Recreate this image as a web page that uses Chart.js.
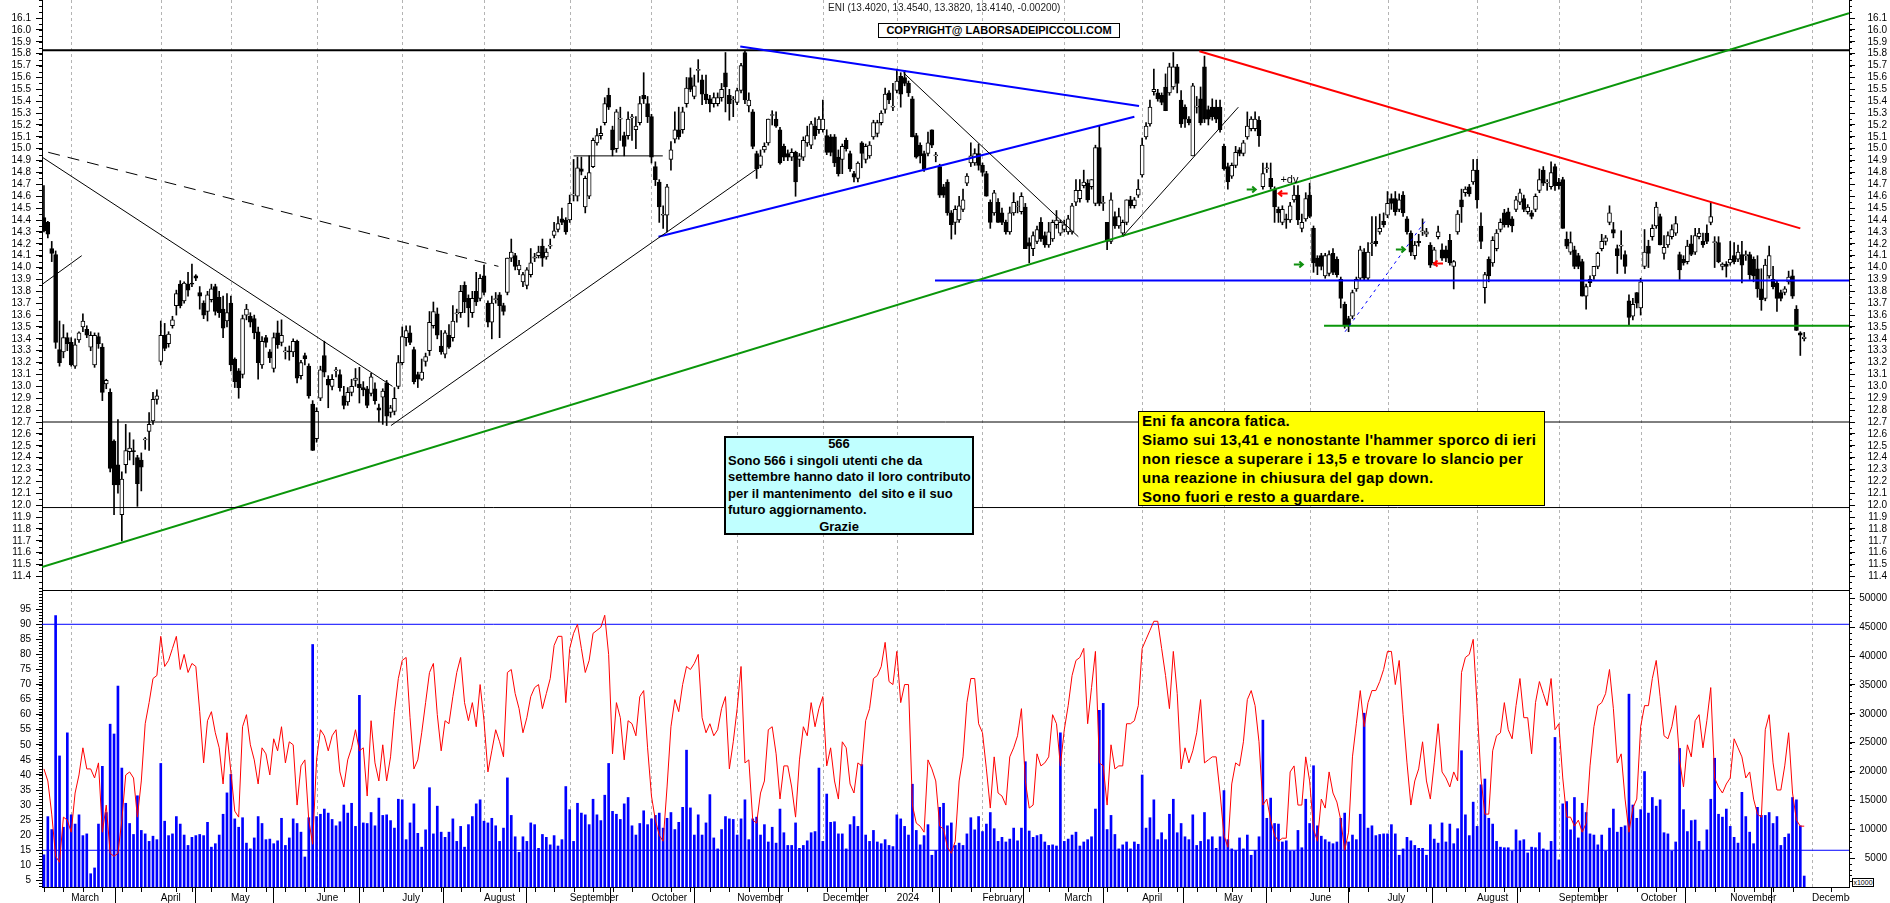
<!DOCTYPE html>
<html>
<head>
<meta charset="utf-8">
<script src="https://cdn.jsdelivr.net/npm/chart.js@4.4.1/dist/chart.umd.min.js"></script>
<style>
  html, body { margin: 0; padding: 0; background: #fff; }
  #page { position: relative; width: 1890px; height: 903px; overflow: hidden; font-family: "Liberation Sans", Arial, sans-serif; }
  #cTop { position: absolute; left: 0; top: 0; }
  #cBot { position: absolute; left: 0; top: 589px; }
  .ov { position: absolute; box-sizing: border-box; white-space: nowrap; color: #000; }
  #title { left: 828px; top: 2px; font-size: 10px; color: #222; }
  #copy { left: 878px; top: 23px; width: 242px; height: 15px; border: 1px solid #000; background: #fff;
          font-weight: bold; font-size: 11px; line-height: 13px; text-align: center; }
  #note566 { left: 724px; top: 436px; width: 250px; height: 99px; border: 2px solid #000; background: #c0ffff;
             font-weight: bold; font-size: 13px; line-height: 16.5px; padding-left: 2px; }
  #note566 .in { position: relative; top: -2px; }
  #note566 .c { text-align: center; padding-right: 22px; }
  #noteEni { left: 1138px; top: 411px; width: 407px; height: 95px; border: 1px solid #000; background: #ffff00;
             font-weight: bold; font-size: 15px; letter-spacing: 0.3px; line-height: 18.9px; padding-left: 3px; }
  #x1000 { left: 1852px; top: 878px; width: 22px; height: 9px; border: 1px solid #000; font-size: 7px; line-height: 7px; text-align: center; background: #fff; }
</style>
</head>
<body>
<div id="page">
  <canvas id="cTop" width="1890" height="590"></canvas>
  <canvas id="cBot" width="1890" height="314"></canvas>
  <div class="ov" id="title">ENI (13.4020, 13.4540, 13.3820, 13.4140, -0.00200)</div>
  <div class="ov" id="copy">COPYRIGHT@ LABORSADEIPICCOLI.COM</div>
  <div class="ov" id="note566"><div class="in">
    <div class="c">566</div>
    <div>Sono 566 i singoli utenti che da</div>
    <div>settembre hanno dato il loro contributo</div>
    <div>per il mantenimento&nbsp; del sito e il suo</div>
    <div>futuro aggiornamento.</div>
    <div class="c">Grazie</div>
  </div></div>
  <div class="ov" id="noteEni">
    <div>Eni fa ancora fatica.</div>
    <div>Siamo sui 13,41 e nonostante l'hammer sporco di ieri</div>
    <div>non riesce a superare i 13,5 e trovare lo slancio per</div>
    <div>una reazione in chiusura del gap down.</div>
    <div>Sono fuori e resto a guardare.</div>
  </div>
  <div class="ov" id="x1000">x1000</div>
</div>
<script>
// daily candles, Feb 20 2023 -> end Nov 2024 (one entry per trading day)
const opens = [
  14.42,14.38,14.16,14.11,13.31,13.29,13.41,13.37,13.17,13.39,
  13.50,13.48,13.33,13.18,13.42,13.33,13.02,12.95,12.54,12.34,
  11.92,12.34,12.45,12.46,12.40,12.38,12.55,12.62,12.71,12.89,
  13.21,13.43,13.36,13.51,13.68,13.86,13.72,13.86,13.87,13.93,
  13.79,13.70,13.63,13.73,13.84,13.75,13.65,13.55,13.70,13.23,
  13.13,13.10,13.60,13.59,13.57,13.46,13.18,13.41,13.29,13.15,
  13.45,13.37,13.29,13.30,13.29,13.38,13.09,13.26,13.17,12.85,
  12.56,12.90,13.26,13.06,13.00,13.13,13.10,12.92,12.87,12.95,
  13.05,13.02,12.99,12.98,12.94,12.98,12.82,12.91,13.03,12.78,
  12.79,13.00,13.20,13.41,13.45,13.31,13.10,13.06,13.21,13.30,
  13.51,13.61,13.34,13.27,13.43,13.41,13.61,13.62,13.85,13.74,
  13.62,13.80,13.74,13.93,13.70,13.54,13.73,13.77,13.68,13.79,
  14.08,14.10,13.98,13.88,13.85,13.94,14.08,14.10,14.18,14.09,
  14.18,14.27,14.32,14.41,14.40,14.40,14.61,14.60,14.83,14.51,
  14.60,14.85,15.05,15.11,15.22,15.45,15.16,15.00,15.25,15.11,
  15.11,15.26,15.16,15.22,15.45,15.38,15.27,14.85,14.72,14.44,
  14.44,14.91,15.08,15.16,15.16,15.38,15.60,15.44,15.66,15.58,
  15.46,15.42,15.38,15.38,15.43,15.64,15.45,15.41,15.39,15.49,
  15.81,15.36,15.31,14.96,14.86,14.99,15.05,15.28,15.25,15.16,
  15.02,14.96,14.93,14.97,14.91,14.93,15.05,15.03,15.19,15.16,
  15.16,15.11,15.10,15.10,14.93,14.91,15.07,14.96,14.79,14.75,
  15.05,14.91,14.94,15.10,15.13,15.22,15.33,15.47,15.35,15.49,
  15.61,15.60,15.55,15.42,15.11,15.03,14.96,14.96,15.16,14.94,
  14.85,14.68,14.72,14.46,14.38,14.40,14.49,14.71,14.88,14.88,
  14.96,14.86,14.79,14.55,14.46,14.55,14.46,14.38,14.30,14.46,
  14.51,14.47,14.51,14.21,14.16,14.22,14.38,14.27,14.19,14.24,
  14.36,14.29,14.32,14.30,14.30,14.55,14.58,14.69,14.71,14.68,
  14.54,15.01,14.54,14.38,14.22,14.43,14.35,14.29,14.38,14.57,
  14.52,14.61,14.78,15.10,15.21,15.48,15.47,15.45,15.52,15.47,
  15.52,15.69,15.41,15.35,15.25,14.94,15.35,15.42,15.69,15.33,
  15.35,15.35,15.35,15.02,14.85,14.77,14.86,14.99,14.96,15.10,
  15.17,15.17,15.24,14.68,14.83,14.75,14.66,14.49,14.38,14.41,
  14.40,14.57,14.61,14.33,14.41,14.61,14.33,14.08,14.10,13.93,
  13.95,14.12,14.07,13.90,13.69,13.57,13.59,13.82,13.91,14.13,
  13.91,14.20,14.22,14.30,14.39,14.44,14.58,14.58,14.49,14.61,
  14.41,14.29,14.10,14.22,14.30,14.28,14.19,14.04,14.26,14.15,
  14.15,14.23,14.01,14.30,14.57,14.63,14.68,14.72,14.82,14.35,
  13.83,14.07,14.04,14.16,14.32,14.46,14.47,14.41,14.49,14.55,
  14.58,14.47,14.46,14.49,14.65,14.82,14.71,14.68,14.85,14.72,
  14.74,14.24,14.13,14.15,14.10,14.05,13.76,13.90,13.93,14.01,
  14.16,14.22,14.38,14.32,14.16,14.18,14.11,13.72,13.59,13.79,
  13.66,14.01,14.18,14.26,14.35,14.43,14.12,14.19,14.26,14.29,
  14.11,14.07,14.05,14.20,14.13,14.26,14.22,14.29,14.38,14.21,
  14.21,14.01,14.03,14.04,14.10,14.07,14.11,14.10,14.11,14.07,
  13.99,13.82,13.74,13.93,13.90,13.87,13.79,13.79,13.88,13.93,
  13.65,13.45,13.402
];
const highs = [
  14.69,14.39,14.22,14.14,13.55,13.52,13.45,13.41,13.40,13.46,
  13.61,13.51,13.46,13.45,13.45,13.36,13.06,12.98,12.55,12.72,
  12.28,12.68,12.61,12.55,12.42,12.44,12.57,12.78,12.95,12.97,
  13.55,13.53,13.46,13.59,13.81,13.89,13.88,13.96,14.03,13.94,
  13.84,13.72,13.80,13.86,13.86,13.80,13.76,13.78,13.76,13.24,
  13.15,13.60,13.69,13.62,13.60,13.50,13.42,13.43,13.31,13.45,
  13.55,13.56,13.33,13.34,13.40,13.39,13.22,13.28,13.19,12.88,
  12.82,13.17,13.38,13.09,13.10,13.16,13.14,13.00,12.99,13.06,
  13.15,13.16,13.04,13.00,13.11,13.03,12.85,12.98,13.05,12.84,
  12.99,13.26,13.50,13.51,13.51,13.33,13.12,13.23,13.28,13.63,
  13.71,13.66,13.47,13.47,13.52,13.68,13.65,13.85,13.88,13.77,
  13.80,13.96,13.94,14.02,13.72,13.76,13.79,13.79,13.70,14.08,
  14.24,14.12,14.06,13.96,14.00,14.16,14.12,14.18,14.24,14.16,
  14.24,14.38,14.43,14.50,14.42,14.61,14.91,14.93,14.93,14.77,
  14.94,15.09,15.17,15.19,15.43,15.51,15.19,15.33,15.35,15.14,
  15.31,15.29,15.27,15.44,15.64,15.44,15.29,14.89,14.74,14.52,
  14.70,15.06,15.31,15.35,15.35,15.60,15.68,15.62,15.75,15.62,
  15.62,15.45,15.47,15.47,15.55,15.81,15.50,15.44,15.51,15.72,
  15.82,15.47,15.33,14.98,14.99,15.05,15.25,15.32,15.31,15.18,
  15.04,14.99,15.00,14.98,14.96,15.10,15.19,15.23,15.26,15.27,
  15.41,15.16,15.12,15.12,14.99,15.04,15.09,14.98,14.81,14.89,
  15.06,15.04,15.06,15.24,15.24,15.32,15.51,15.49,15.55,15.67,
  15.64,15.66,15.57,15.44,15.13,15.05,14.98,15.14,15.16,14.97,
  14.87,14.70,14.74,14.48,14.52,14.60,14.66,14.79,15.05,15.00,
  15.04,14.88,14.81,14.57,14.65,14.58,14.50,14.40,14.51,14.63,
  14.56,14.63,14.54,14.25,14.30,14.35,14.42,14.30,14.38,14.40,
  14.48,14.40,14.40,14.44,14.54,14.74,14.74,14.82,14.74,14.74,
  15.03,15.19,14.60,14.38,14.63,14.47,14.50,14.40,14.57,14.60,
  14.59,14.74,15.09,15.22,15.41,15.67,15.50,15.47,15.63,15.72,
  15.81,15.71,15.49,15.37,15.27,15.55,15.44,15.52,15.78,15.36,
  15.42,15.41,15.41,15.04,14.88,14.88,15.02,15.01,15.07,15.31,
  15.27,15.31,15.27,14.88,14.88,14.88,14.68,14.51,14.52,14.45,
  14.55,14.69,14.69,14.45,14.63,14.71,14.35,14.10,14.12,14.12,
  14.14,14.16,14.09,13.92,13.71,13.59,13.81,13.92,14.18,14.16,
  14.21,14.43,14.43,14.45,14.46,14.64,14.62,14.64,14.62,14.64,
  14.43,14.31,14.22,14.28,14.41,14.33,14.21,14.17,14.35,14.20,
  14.18,14.28,14.06,14.48,14.66,14.68,14.70,14.91,14.91,14.46,
  13.96,14.09,14.26,14.32,14.41,14.49,14.50,14.43,14.60,14.66,
  14.61,14.53,14.48,14.62,14.83,14.85,14.74,14.89,14.87,14.75,
  14.76,14.30,14.30,14.18,14.12,14.07,13.86,13.93,14.01,14.13,
  14.28,14.27,14.52,14.38,14.19,14.31,14.14,13.77,13.74,13.79,
  13.91,14.32,14.23,14.36,14.55,14.45,14.27,14.30,14.36,14.43,
  14.13,14.10,14.23,14.27,14.33,14.33,14.29,14.36,14.55,14.26,
  14.26,14.04,14.05,14.22,14.21,14.19,14.22,14.14,14.13,14.09,
  14.10,13.99,14.07,14.18,14.01,13.89,13.81,13.84,13.97,13.98,
  13.68,13.46,13.454
];
const lows = [
  14.30,14.25,14.05,13.32,13.17,13.24,13.30,13.17,13.15,13.37,
  13.46,13.41,13.30,13.16,13.32,12.88,12.98,12.28,11.92,12.10,
  11.70,12.27,12.38,12.34,11.99,12.12,12.47,12.46,12.68,12.85,
  13.18,13.30,13.33,13.49,13.60,13.66,13.70,13.76,13.84,13.89,
  13.65,13.57,13.55,13.71,13.60,13.58,13.41,13.50,13.13,12.99,
  12.90,13.07,13.56,13.50,13.40,13.06,13.15,13.33,13.20,13.12,
  13.32,13.34,13.23,13.22,13.25,13.03,13.06,13.18,12.90,12.46,
  12.53,12.88,13.08,12.82,12.97,13.08,12.96,12.81,12.84,12.92,
  13.00,12.86,12.92,12.82,12.92,12.85,12.70,12.68,12.67,12.74,
  12.76,12.98,13.18,13.34,13.35,13.02,12.99,13.05,13.17,13.26,
  13.49,13.40,13.27,13.24,13.32,13.38,13.54,13.58,13.62,13.50,
  13.58,13.68,13.72,13.77,13.50,13.40,13.70,13.41,13.60,13.77,
  14.05,13.98,13.94,13.84,13.82,13.92,14.05,14.08,14.01,14.07,
  14.16,14.25,14.30,14.36,14.28,14.38,14.56,14.56,14.78,14.46,
  14.58,14.84,15.03,15.08,15.20,15.33,14.94,14.97,15.07,14.94,
  15.08,15.07,15.00,15.20,15.38,15.22,14.88,14.69,14.38,14.33,
  14.30,14.82,15.05,15.08,15.13,15.35,15.48,15.42,15.56,15.37,
  15.38,15.31,15.35,15.36,15.40,15.31,15.24,15.27,15.37,15.47,
  15.38,15.31,15.00,14.75,14.84,14.97,15.03,15.20,15.18,14.87,
  14.90,14.90,14.90,14.60,14.85,14.90,15.02,15.00,15.08,15.13,
  15.14,14.95,14.94,14.85,14.77,14.79,14.98,14.81,14.72,14.72,
  14.84,14.88,14.92,15.08,15.10,15.20,15.30,15.38,15.32,15.47,
  15.35,15.53,15.44,15.10,14.92,14.88,14.81,14.94,15.01,14.89,
  14.59,14.59,14.44,14.24,14.28,14.38,14.47,14.69,14.85,14.86,
  14.82,14.77,14.60,14.33,14.44,14.38,14.36,14.28,14.28,14.44,
  14.46,14.45,14.16,14.04,14.10,14.20,14.22,14.17,14.17,14.22,
  14.33,14.27,14.30,14.28,14.28,14.52,14.55,14.67,14.55,14.66,
  14.52,14.52,14.48,14.15,14.20,14.33,14.33,14.26,14.36,14.50,
  14.50,14.59,14.76,15.08,15.19,15.45,15.40,15.37,15.32,15.45,
  15.50,15.47,15.18,15.18,15.20,14.94,15.30,15.20,15.22,15.20,
  15.24,15.22,15.14,14.82,14.66,14.75,14.84,14.94,14.94,15.08,
  15.15,15.15,15.02,14.66,14.80,14.66,14.38,14.38,14.36,14.33,
  14.38,14.55,14.36,14.30,14.39,14.42,13.96,13.94,13.98,13.91,
  13.93,13.94,13.92,13.66,13.49,13.46,13.57,13.80,13.89,13.89,
  13.89,14.10,14.18,14.28,14.34,14.42,14.49,14.44,14.47,14.43,
  14.28,14.10,14.07,14.18,14.27,14.26,14.00,14.02,14.24,14.06,
  14.05,14.02,13.82,14.28,14.38,14.60,14.60,14.70,14.50,14.16,
  13.70,13.88,14.01,14.14,14.30,14.34,14.34,14.30,14.47,14.53,
  14.47,14.45,14.41,14.47,14.63,14.69,14.65,14.66,14.65,14.66,
  14.33,14.16,14.11,13.99,13.99,13.76,13.65,13.84,13.90,13.99,
  14.14,14.19,14.36,14.25,13.95,14.07,13.95,13.52,13.56,13.66,
  13.60,13.99,14.00,14.23,14.33,14.19,14.07,14.17,14.24,14.27,
  13.90,14.02,14.03,14.10,14.11,14.24,14.17,14.20,14.36,14.00,
  14.04,13.98,13.92,14.02,14.03,14.05,13.87,14.06,13.90,13.88,
  13.75,13.64,13.72,13.91,13.82,13.63,13.72,13.77,13.86,13.74,
  13.47,13.26,13.382
];
const closes = [
  14.31,14.28,14.12,13.37,13.20,13.41,13.36,13.18,13.35,13.45,
  13.55,13.43,13.43,13.43,13.36,12.95,13.05,12.31,12.17,12.17,
  12.22,12.46,12.48,12.45,12.18,12.32,12.55,12.68,12.89,12.92,
  13.43,13.32,13.44,13.56,13.78,13.68,13.87,13.81,13.86,13.91,
  13.76,13.60,13.77,13.82,13.63,13.62,13.49,13.62,13.18,13.04,
  12.99,13.57,13.65,13.54,13.45,13.20,13.38,13.37,13.24,13.41,
  13.35,13.43,13.29,13.29,13.38,13.07,13.20,13.23,12.92,12.46,
  12.79,13.14,13.12,13.01,13.06,13.13,12.99,12.84,12.95,13.00,
  13.07,12.99,12.97,12.84,13.08,12.88,12.80,12.96,12.75,12.82,
  12.90,13.20,13.42,13.47,13.37,13.04,13.06,13.12,13.25,13.54,
  13.63,13.43,13.29,13.45,13.33,13.55,13.61,13.80,13.71,13.66,
  13.74,13.71,13.91,13.79,13.54,13.70,13.73,13.68,13.63,14.08,
  14.13,14.01,14.02,13.94,13.98,14.04,14.09,14.13,14.08,14.13,
  14.18,14.31,14.37,14.38,14.30,14.54,14.61,14.84,14.81,14.75,
  14.80,15.07,15.11,15.13,15.38,15.35,14.99,15.31,15.25,15.02,
  15.25,15.26,15.19,15.38,15.42,15.27,14.93,14.74,14.51,14.44,
  14.68,14.99,15.16,15.10,15.31,15.51,15.50,15.53,15.66,15.46,
  15.41,15.38,15.43,15.43,15.50,15.52,15.38,15.41,15.49,15.70,
  15.41,15.41,15.02,14.83,14.94,15.02,15.25,15.28,15.19,14.88,
  14.93,14.93,14.97,14.72,14.94,15.07,15.11,15.21,15.11,15.25,
  15.25,14.97,14.97,14.88,14.79,15.02,15.00,14.83,14.76,14.88,
  14.96,15.02,15.03,15.22,15.22,15.30,15.46,15.41,15.36,15.57,
  15.46,15.55,15.47,15.10,14.93,14.94,14.83,15.05,15.03,14.94,
  14.61,14.61,14.46,14.36,14.49,14.52,14.57,14.77,14.94,14.96,
  14.86,14.80,14.60,14.38,14.63,14.38,14.38,14.30,14.46,14.55,
  14.51,14.60,14.16,14.18,14.27,14.32,14.24,14.19,14.30,14.38,
  14.40,14.38,14.36,14.41,14.52,14.65,14.65,14.72,14.57,14.74,
  15.01,14.54,14.54,14.22,14.57,14.35,14.43,14.38,14.57,14.52,
  14.57,14.66,15.03,15.19,15.35,15.50,15.42,15.39,15.32,15.69,
  15.69,15.55,15.21,15.25,15.22,15.53,15.35,15.22,15.25,15.25,
  15.27,15.25,15.16,14.83,14.72,14.86,14.97,14.96,15.05,15.19,
  15.25,15.25,15.11,14.79,14.83,14.68,14.51,14.46,14.49,14.40,
  14.52,14.61,14.40,14.38,14.58,14.43,14.04,14.01,14.01,14.10,
  14.11,13.96,13.94,13.74,13.51,13.51,13.79,13.90,14.15,13.91,
  14.13,14.20,14.20,14.33,14.36,14.54,14.54,14.47,14.57,14.46,
  14.30,14.13,14.19,14.21,14.30,14.30,14.02,14.15,14.30,14.08,
  14.08,14.04,14.05,14.45,14.51,14.66,14.62,14.82,14.57,14.22,
  13.94,13.93,14.23,14.29,14.38,14.36,14.36,14.35,14.57,14.63,
  14.49,14.51,14.43,14.60,14.74,14.71,14.71,14.80,14.69,14.69,
  14.33,14.18,14.21,14.01,14.01,13.76,13.84,13.87,14.01,14.12,
  14.22,14.25,14.46,14.29,14.10,14.18,14.01,13.58,13.69,13.70,
  13.88,14.13,14.12,14.33,14.51,14.19,14.17,14.27,14.32,14.37,
  13.98,14.04,14.18,14.11,14.27,14.29,14.19,14.22,14.43,14.21,
  14.05,14.03,14.01,14.07,14.05,14.13,14.02,14.11,13.94,13.93,
  13.82,13.73,14.02,14.10,13.84,13.74,13.74,13.82,13.92,13.76,
  13.47,13.43,13.414
];
// volume (right axis) and oscillator (left axis, 0-100) of the lower panel
const volumes = [
  5580,12190,9950,47000,22700,10350,26700,12500,10900,12500,
  8900,9200,2300,3300,10900,20900,12900,28200,26500,34800,
  20600,14500,11000,9100,15800,9800,9200,7900,8800,8200,
  21400,11400,8900,9200,12200,10900,9000,7200,8600,8900,
  9100,8900,11200,6900,7500,9000,12600,16300,19500,11800,
  10350,12000,7600,6600,8500,12200,11000,8200,8300,7500,
  8000,11900,7200,8500,11800,11000,9500,5200,12000,42000,
  12200,12600,13500,12800,11700,10600,11300,14200,12800,14500,
  10500,33200,11100,11000,12900,10600,15400,12400,12500,11500,
  10200,15200,15100,8200,11100,14400,9300,6900,9900,17200,
  9200,14000,9500,8600,9500,11800,7900,10500,6900,10800,
  12200,14400,15100,11400,11100,11900,10600,7900,10200,18900,
  12400,8700,6000,8700,7900,11100,10800,6700,9100,8600,
  7300,8900,7100,8200,17400,13400,7900,14500,12800,12500,
  10800,15200,12500,11500,15900,21400,13100,12600,11700,14400,
  15500,10600,9000,11000,13200,10800,11800,12400,12800,10200,
  11900,12900,9950,11200,13800,23700,13700,9000,12500,9000,
  11100,16000,8500,6600,9950,12200,11800,11700,9000,11800,
  15100,8200,11800,12100,9000,10800,7800,10350,7600,13500,
  9400,7200,7200,11100,6700,7200,8000,9400,9600,20600,
  7900,16100,11200,11300,9200,9200,6600,10800,12200,10500,
  21200,9000,7900,9800,7800,7500,8200,7200,7000,12500,
  11800,10500,9000,17800,9800,7300,8900,10800,5500,6300,
  13800,14500,10600,11100,7200,7600,7200,9200,12000,9900,
  12200,9600,10900,12900,10100,7900,8600,7800,8300,10200,
  8000,10200,21700,9700,8600,8900,9100,7800,7200,7300,
  7100,26700,7900,8300,9000,9500,7100,7800,8200,8700,
  13500,30600,31800,9950,12400,9100,6600,7300,7800,6600,
  7800,7400,19400,10200,12000,15100,8200,9400,8200,12600,
  15200,9400,11000,8700,8200,12500,7200,7900,12900,8200,
  8700,6700,8700,16700,8200,6600,6300,8500,6600,9000,
  5500,6300,8700,28900,11900,15400,11000,10900,7800,8000,
  6200,6200,9800,6800,15200,11000,21000,10600,8800,8200,
  7800,7500,7800,11900,12800,7800,9000,8200,12600,30100,
  10200,10600,8900,9100,9200,9200,10800,9200,5500,6600,
  8600,8000,7200,6700,6700,5500,10800,8300,7600,11100,
  7800,10900,7500,10100,23600,12500,8900,14700,10500,17700,
  18700,11900,10900,7900,6900,6800,6800,6200,9900,8000,
  8200,5900,6900,6800,9400,6600,6300,7900,25900,4700,
  14400,14800,9900,15500,8500,14500,12900,9200,9000,7300,
  9000,6200,10200,13500,9500,10350,10600,33400,14200,11900,
  13400,20000,12800,15500,14000,15100,9400,9200,6200,7800,
  24000,13400,9600,11500,11600,7900,6300,9900,15200,22300,
  12600,12100,13500,10500,8600,7600,16400,12200,9500,7500,
  13800,12400,12400,12900,11000,12200,7200,8600,9200,15500,
  15100,10600,1900
];
const oscillator = [
  42,38,27,13,11,26,25,21,34,40,
  49,42,42,39,44,21,30,14,13,14,
  25,40,41,39,26,38,57,64,72,73,
  86,76,78,82,86,75,80,74,77,76,
  61,44,58,61,54,49,37,54,41,28,
  26,56,60,50,45,37,49,47,40,52,
  48,56,44,51,50,30,43,45,25,17,
  45,55,53,48,53,55,41,36,45,49,
  55,48,49,33,58,44,38,50,38,46,
  61,72,78,79,59,42,45,54,64,74,
  77,60,48,58,57,66,74,79,64,58,
  64,56,70,58,41,48,55,51,46,74,
  75,67,62,54,59,66,69,70,62,67,
  72,83,86,86,64,82,87,90,82,74,
  78,87,88,89,93,80,47,64,59,45,
  58,57,53,66,68,49,33,25,20,18,
  36,56,65,61,70,76,75,77,80,59,
  54,57,53,55,62,66,42,51,62,76,
  44,45,25,24,34,38,55,56,47,32,
  43,43,36,26,45,56,53,64,56,62,
  66,43,49,38,32,51,49,37,34,44,
  43,58,62,72,73,76,84,71,70,81,
  64,70,70,30,24,23,21,45,42,38,
  23,22,16,14,18,38,46,64,72,72,
  57,54,42,29,46,34,33,30,46,49,
  53,62,38,29,30,47,43,44,46,60,
  57,43,55,63,73,78,79,82,57,69,
  81,44,43,30,50,42,43,43,57,57,
  58,63,82,85,88,91,91,82,73,62,
  81,67,42,49,44,48,54,65,44,45,
  46,46,34,20,16,37,44,43,51,65,
  68,63,51,30,32,25,20,18,19,19,
  41,43,30,30,46,38,22,18,32,29,
  41,34,31,25,15,21,46,57,68,56,
  64,68,68,71,75,81,81,70,78,60,
  44,30,38,42,51,38,32,44,57,41,
  39,36,41,38,74,79,80,85,63,39,
  27,27,48,53,54,64,55,52,63,72,
  59,59,47,64,71,67,63,72,55,57,
  39,26,26,23,25,21,24,43,56,63,
  64,67,75,62,44,47,32,21,29,32,
  56,63,63,72,78,66,53,52,56,63,
  45,36,50,46,58,60,49,58,69,39,
  36,34,37,39,52,49,46,39,41,32,
  27,26,55,60,44,35,35,43,54,34,
  25,23,23
];

// x axis: trading-day index of the first session of each month, and of each week
const monthIdx = [7, 30, 48, 70, 92, 113, 135, 156, 178, 200, 219, 241, 262, 282, 303, 325, 345, 368, 389, 410, 433, 454];
const monthNames = ['March', 'April', 'May', 'June', 'July', 'August', 'September', 'October', 'November', 'December', '2024',
  'February', 'March', 'April', 'May', 'June', 'July', 'August', 'September', 'October', 'November', 'December'];
const weekIdx = [0, 5, 10, 15, 20, 25, 34, 38, 43, 52, 57, 62, 67, 72, 77, 82, 87, 97, 102, 107, 112, 117, 122, 126, 131,
  136, 141, 146, 151, 161, 166, 171, 176, 181, 186, 191, 196, 201, 206, 211, 216, 223, 228, 233, 238, 243, 248, 253, 258,
  263, 268, 273, 278, 286, 291, 296, 301, 305, 310, 315, 320, 330, 335, 340, 350, 355, 360, 365, 370, 375, 379, 384,
  394, 399, 404, 409, 414, 419, 424, 429, 434, 439, 444, 449, 459];

// drawn levels and trendlines, as [index, price] end points
const resistance = [[-0.5, 15.83], [463.5, 15.83]];
const level1270 = [[-0.5, 12.70], [463.5, 12.70]];
const level1198 = [[-0.5, 11.98], [463.5, 11.98]];
const longGreen = [[-0.5, 11.48], [463.5, 16.14]];
const redDown = [[296.7, 15.82], [451, 14.33]];
const blueTop = [[178.8, 15.86], [281.2, 15.36]];
const blueBottom = [[157.8, 14.26], [280, 15.27]];
const blueFlat = [[228.8, 13.89], [463.5, 13.89]];
const greenFlat = [[328.7, 13.51], [463.5, 13.51]];
const thinDown1 = [[-0.5, 14.93], [89.5, 13.0]];
const dashedDown = [[1.1, 14.97], [116.7, 14.01]];
const thinShort = [[-0.4, 13.86], [9.7, 14.10]];
const thinUp1 = [[89.1, 12.67], [183.5, 14.84]];
const thinFlat = [[136, 14.94], [158.9, 14.94]];
const thinDown2 = [[220.7, 15.64], [265.6, 14.26]];
const thinUp2 = [[277.2, 14.27], [306.7, 15.35]];
const blueDotted = [[334.1, 13.46], [355.1, 14.41]];
// signal arrows [index, price, direction]
const arrows = [[310.0, 14.66, 1], [318.2, 14.63, -1], [322.1, 14.03, 1], [348.3, 14.16, 1], [358.1, 14.04, -1]];
const dvNote = { x: 317.5, y: 14.74, text: '+dv' };
// oscillator bands
const oscBands = [90, 15];

const FONT = '"Liberation Sans", Arial, sans-serif';
Chart.defaults.font.family = FONT;
Chart.defaults.font.size = 10;
Chart.defaults.color = '#000';

const N = Math.min(opens.length, highs.length, lows.length, closes.length);
const idx = Array.from({ length: N }, (_, i) => i);

const X_MIN = -0.5, X_MAX = 463.5;

const priceTicks = [];
for (let k = 114; k <= 161; k++) priceTicks.push(k / 10);
const oscTicks = [];
for (let k = 1; k <= 19; k++) oscTicks.push(k * 5);
const volTicks = [];
for (let k = 1; k <= 10; k++) volTicks.push(k * 5000);

// keep the plot area exactly where the axis widths put it
function noPad(s) {
  s.paddingTop = 0;
  s.paddingBottom = 0;
  s.paddingLeft = 0;
  s.paddingRight = 0;
}

function seg(pts, color, width, dash, axis) {
  return {
    type: 'line',
    data: pts.map(p => ({ x: p[0], y: p[1] })),
    borderColor: color,
    borderWidth: width,
    borderDash: dash || [],
    pointRadius: 0,
    fill: false,
    tension: 0,
    yAxisID: axis || 'y',
    order: 0
  };
}

// dashed vertical line at each month start
const monthGrid = {
  id: 'monthGrid',
  beforeDatasetsDraw(chart) {
    const { ctx, chartArea: a } = chart;
    const x = chart.scales.x;
    ctx.save();
    ctx.strokeStyle = '#b4b4b4';
    ctx.lineWidth = 1;
    ctx.setLineDash([3, 3]);
    monthIdx.forEach(i => {
      const px = Math.round(x.getPixelForValue(i)) + 0.5;
      ctx.beginPath();
      ctx.moveTo(px, a.top);
      ctx.lineTo(px, a.bottom);
      ctx.stroke();
    });
    ctx.restore();
  }
};

// short minor ticks between the labelled ones
function minorTicks(specs) {
  return {
    id: 'minorTicks',
    afterDraw(chart) {
      const { ctx, chartArea: a } = chart;
      ctx.save();
      ctx.strokeStyle = '#000';
      ctx.lineWidth = 1;
      specs.forEach(sp => {
        const sc = chart.scales[sp.id];
        for (let k = sp.k0; k <= sp.k1; k++) {
          const y = Math.round(sc.getPixelForValue(k * sp.unit)) + 0.5;
          if (y < a.top || y > a.bottom) continue;
          ctx.beginPath();
          if (sc.position === 'left') { ctx.moveTo(a.left - 3, y); ctx.lineTo(a.left, y); }
          else { ctx.moveTo(a.right, y); ctx.lineTo(a.right + 3, y); }
          ctx.stroke();
        }
      });
      ctx.restore();
    }
  };
}

const signalMarks = {
  id: 'signalMarks',
  afterDatasetsDraw(chart) {
    const { ctx } = chart;
    const x = chart.scales.x, y = chart.scales.y;
    arrows.forEach(([xi, v, dir]) => {
      const cx = x.getPixelForValue(xi);
      const cy = Math.round(y.getPixelForValue(v)) + 0.5;
      const tip = cx + 4.5 * dir;
      ctx.save();
      ctx.strokeStyle = dir > 0 ? '#109010' : '#ff0000';
      ctx.lineWidth = 2;
      ctx.beginPath();
      ctx.moveTo(cx - 4.5 * dir, cy);
      ctx.lineTo(tip, cy);
      ctx.moveTo(tip - 3.5 * dir, cy - 3);
      ctx.lineTo(tip, cy);
      ctx.lineTo(tip - 3.5 * dir, cy + 3);
      ctx.stroke();
      ctx.restore();
    });
    ctx.save();
    ctx.fillStyle = '#000';
    ctx.font = '11px ' + FONT;
    ctx.textBaseline = 'middle';
    ctx.fillText(dvNote.text, x.getPixelForValue(dvNote.x), y.getPixelForValue(dvNote.y));
    ctx.restore();
  }
};

const panelTop = {
  id: 'panelTop',
  afterDraw(chart) {
    const { ctx, chartArea: a } = chart;
    const x = chart.scales.x;
    ctx.save();
    ctx.strokeStyle = '#000';
    ctx.lineWidth = 1;
    ctx.beginPath();
    ctx.moveTo(a.left, Math.round(a.top) + 0.5);
    ctx.lineTo(a.right, Math.round(a.top) + 0.5);
    // weekly ticks under the axis
    weekIdx.forEach(i => {
      const px = Math.round(x.getPixelForValue(i)) + 0.5;
      ctx.moveTo(px, a.bottom);
      ctx.lineTo(px, a.bottom + 5);
    });
    ctx.stroke();
    // the last month label is cut at the right axis
    ctx.fillStyle = '#fff';
    ctx.fillRect(a.right + 1, a.bottom + 3, chart.width - a.right - 1, chart.height - a.bottom - 3);
    ctx.restore();
  }
};

function priceAxis(pos) {
  return {
    type: 'linear',
    position: pos,
    min: 11.286,
    max: 16.252,
    afterFit: s => { s.width = pos === 'left' ? 42 : 38; noPad(s); },
    afterBuildTicks: s => { s.ticks = priceTicks.map(v => ({ value: v })); },
    ticks: {
      autoSkip: false,
      padding: 5,
      crossAlign: pos === 'left' ? 'near' : 'far',
      callback: v => v.toFixed(1),
      font: { size: 10 },
      color: '#000'
    },
    grid: { drawOnChartArea: false, tickLength: 6, tickColor: '#000' },
    border: { color: '#000' }
  };
}

new Chart(document.getElementById('cTop'), {
  type: 'bar',
  data: {
    datasets: [
      {
        label: 'range',
        data: idx.map(i => ({ x: i, y: [lows[i], highs[i]] })),
        backgroundColor: '#000',
        barThickness: 1,
        grouped: false,
        yAxisID: 'y',
        order: 3
      },
      {
        label: 'body',
        data: idx.map(i => ({ x: i, y: [opens[i], closes[i]] })),
        backgroundColor: c => (c.raw && c.raw.y[1] >= c.raw.y[0]) ? '#ffffff' : '#000000',
        borderColor: '#000',
        borderWidth: 1,
        borderSkipped: false,
        barThickness: 4,
        minBarLength: 1,
        grouped: false,
        yAxisID: 'y',
        order: 2
      },
      seg(level1270, '#000', 1),
      seg(level1198, '#000', 1),
      seg(thinDown1, '#000', 1),
      seg(dashedDown, '#000', 1, [12, 8]),
      seg(thinShort, '#000', 1),
      seg(thinUp1, '#000', 1),
      seg(thinFlat, '#000', 1),
      seg(thinDown2, '#000', 1),
      seg(thinUp2, '#000', 1),
      seg(blueDotted, '#0000ff', 1, [3, 4]),
      seg(longGreen, '#0a960a', 2),
      seg(greenFlat, '#0a960a', 2),
      seg(redDown, '#ff0000', 2),
      seg(blueTop, '#0000ff', 2),
      seg(blueBottom, '#0000ff', 2),
      seg(blueFlat, '#0000ff', 2),
      seg(resistance, '#000', 2)
    ]
  },
  options: {
    responsive: false,
    animation: false,
    events: [],
    layout: { padding: { left: 0, right: 3, top: 0, bottom: 0 } },
    plugins: { legend: { display: false }, tooltip: { enabled: false } },
    scales: {
      x: { type: 'linear', min: X_MIN, max: X_MAX, offset: false, display: false },
      y: priceAxis('left'),
      y2: priceAxis('right')
    }
  },
  plugins: [monthGrid, signalMarks, minorTicks([
    { id: 'y', k0: 226, k1: 325, unit: 0.05 },
    { id: 'y2', k0: 226, k1: 325, unit: 0.05 }
  ])]
});

new Chart(document.getElementById('cBot'), {
  type: 'bar',
  data: {
    datasets: [
      {
        type: 'line',
        data: idx.map(i => ({ x: i, y: oscillator[i] })),
        borderColor: '#ff0000',
        borderWidth: 1,
        pointRadius: 0,
        tension: 0,
        fill: false,
        yAxisID: 'yR',
        order: 0
      },
      seg([[X_MIN, oscBands[0]], [X_MAX, oscBands[0]]], '#0000ff', 1, null, 'yR'),
      seg([[X_MIN, oscBands[1]], [X_MAX, oscBands[1]]], '#0000ff', 1, null, 'yR'),
      {
        label: 'volume',
        data: idx.map(i => ({ x: i, y: volumes[i] })),
        backgroundColor: '#0000ff',
        barThickness: 2,
        grouped: false,
        yAxisID: 'yV',
        order: 2
      }
    ]
  },
  options: {
    responsive: false,
    animation: false,
    events: [],
    layout: { padding: { left: 0, right: 3, top: 1, bottom: 0 } },
    plugins: { legend: { display: false }, tooltip: { enabled: false } },
    scales: {
      x: {
        type: 'linear',
        position: 'bottom',
        min: X_MIN,
        max: X_MAX,
        offset: false,
        afterFit: s => { s.height = 16; noPad(s); },
        afterBuildTicks: s => { s.ticks = monthIdx.map(v => ({ value: v })); },
        ticks: {
          autoSkip: false,
          maxRotation: 0,
          minRotation: 0,
          align: 'start',
          padding: -11,
          callback: v => monthNames[monthIdx.indexOf(v)],
          font: { size: 10 },
          color: '#000'
        },
        grid: { drawOnChartArea: false, tickLength: 16, tickColor: '#000' },
        border: { color: '#000' }
      },
      yR: {
        type: 'linear',
        position: 'left',
        min: 2.81,
        max: 101.38,
        afterFit: s => { s.width = 42; noPad(s); },
        afterBuildTicks: s => { s.ticks = oscTicks.map(v => ({ value: v })); },
        ticks: { autoSkip: false, padding: 5, font: { size: 10 }, color: '#000' },
        grid: { drawOnChartArea: false, tickLength: 6, tickColor: '#000' },
        border: { color: '#000' }
      },
      yV: {
        type: 'linear',
        position: 'right',
        min: 0,
        max: 51437,
        afterFit: s => { s.width = 38; noPad(s); },
        afterBuildTicks: s => { s.ticks = volTicks.map(v => ({ value: v })); },
        ticks: { autoSkip: false, padding: 5, crossAlign: 'far', callback: v => String(v), font: { size: 10 }, color: '#000' },
        grid: { drawOnChartArea: false, tickLength: 6, tickColor: '#000' },
        border: { color: '#000' }
      }
    }
  },
  plugins: [monthGrid, panelTop, minorTicks([
    { id: 'yR', k0: 3, k1: 101, unit: 1 },
    { id: 'yV', k0: 1, k1: 51, unit: 1000 }
  ])]
});
</script>
</body>
</html>
